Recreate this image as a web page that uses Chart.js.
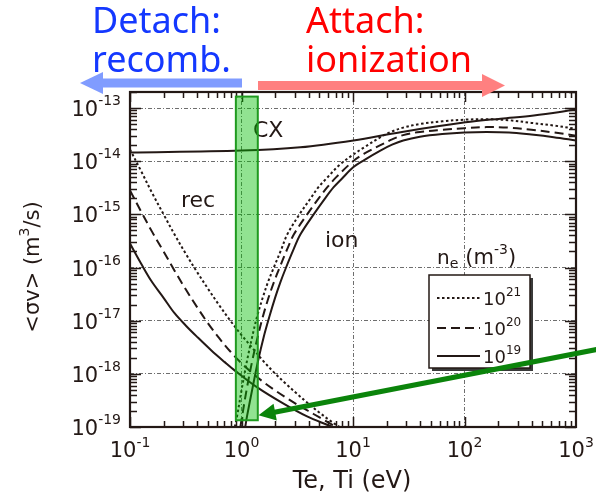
<!DOCTYPE html>
<html>
<head>
<meta charset="utf-8">
<script src="https://cdn.jsdelivr.net/npm/chart.js@4.4.1/dist/chart.umd.min.js"></script>
<style>
  html, body { margin: 0; padding: 0; background: #ffffff; }
  canvas { display: block; }
</style>
</head>
<body>
<canvas id="rates" width="596" height="497"></canvas>
<script>
// ---- Rate coefficients <sigma v> (m^3/s) versus temperature (eV) ----

// Charge exchange
const cxTe   = [0.1, 1.0, 3.37, 10.1, 26.7, 102, 211, 418, 1000];
const cxRate = [1.45e-14, 1.58e-14, 1.82e-14, 2.45e-14, 3.51e-14, 5.37e-14, 6.31e-14, 7.24e-14, 9.33e-14];

// Recombination, n_e = 1e21 / 1e20 / 1e19 m^-3
const recTe21   = [0.1, 0.126, 0.158, 0.2, 0.251, 0.316, 0.398, 0.501, 0.631, 0.794, 1.0, 1.259, 1.585, 1.995, 2.512, 3.162, 3.981, 5.012, 6.310, 7.586];
const recRate21 = [1.66e-14, 6.46e-15, 2.51e-15, 1.0e-15, 4.17e-16, 1.82e-16, 8.32e-17, 3.98e-17, 1.95e-17, 1.0e-17, 5.37e-18, 3.02e-18, 1.70e-18, 1.02e-18, 6.46e-19, 4.17e-19, 2.75e-19, 1.86e-19, 1.29e-19, 1.0e-19];
const recTe20   = [0.1, 0.126, 0.158, 0.2, 0.251, 0.316, 0.398, 0.501, 0.631, 0.794, 1.0, 1.259, 1.585, 1.995, 2.512, 3.162, 3.981, 5.012, 6.310, 7.079];
const recRate20 = [2.82e-15, 1.12e-15, 4.68e-16, 2.0e-16, 8.71e-17, 3.89e-17, 1.82e-17, 8.91e-18, 4.68e-18, 2.63e-18, 1.58e-18, 1.02e-18, 6.92e-19, 4.90e-19, 3.55e-19, 2.63e-19, 2.0e-19, 1.51e-19, 1.15e-19, 1.0e-19];
const recTe19   = [0.1, 0.126, 0.155, 0.2, 0.251, 0.316, 0.398, 0.537, 0.708, 0.873, 1.374, 2.382, 3.873, 5.848, 6.607];
const recRate19 = [2.82e-16, 1.175e-16, 5.62e-17, 2.69e-17, 1.38e-17, 8.13e-18, 5.01e-18, 2.75e-18, 1.66e-18, 1.15e-18, 5.62e-19, 2.75e-19, 1.58e-19, 1.10e-19, 1.0e-19];

// Ionization, n_e = 1e21 / 1e20 / 1e19 m^-3
const ionTe21   = [0.871, 0.912, 1.012, 1.122, 1.245, 1.380, 1.549, 1.738, 1.950, 2.275, 2.570, 3.311, 4.169, 4.898, 5.754, 7.586, 10.0, 12.59, 17.62, 22.39, 28.18, 39.81, 63.10, 100, 158.5, 251.2, 398.1, 631.0, 1000];
const ionRate21 = [1.0e-19, 1.58e-19, 5.62e-19, 1.78e-18, 4.90e-18, 1.20e-17, 2.69e-17, 5.50e-17, 1.0e-16, 2.19e-16, 4.17e-16, 1.0e-15, 2.0e-15, 3.24e-15, 4.68e-15, 8.51e-15, 1.32e-14, 1.82e-14, 2.82e-14, 3.63e-14, 4.27e-14, 5.01e-14, 5.62e-14, 6.03e-14, 6.17e-14, 5.89e-14, 5.25e-14, 4.68e-14, 4.07e-14];
const ionTe20   = [0.977, 1.012, 1.122, 1.250, 1.396, 1.556, 1.746, 1.950, 2.198, 2.564, 2.944, 3.882, 4.920, 5.888, 7.079, 10.14, 12.59, 17.62, 22.39, 28.18, 39.81, 63.10, 100, 158.5, 251.2, 398.1, 631.0, 1000];
const ionRate20 = [1.0e-19, 1.58e-19, 5.62e-19, 1.78e-18, 4.90e-18, 1.20e-17, 2.69e-17, 5.25e-17, 1.0e-16, 2.19e-16, 4.17e-16, 1.0e-15, 2.0e-15, 3.24e-15, 5.01e-15, 1.02e-14, 1.38e-14, 2.0e-14, 2.57e-14, 3.09e-14, 3.55e-14, 3.89e-14, 4.17e-14, 4.37e-14, 4.27e-14, 3.89e-14, 3.47e-14, 3.02e-14];
const ionTe19   = [1.08, 1.12, 1.26, 1.41, 1.58, 1.78, 2.0, 2.23, 2.51, 2.93, 3.37, 4.44, 5.62, 6.71, 7.94, 10.1, 12.6, 17.6, 22.4, 28.2, 39.8, 63.1, 100, 158, 251, 398, 631, 1000];
const ionRate19 = [1.0e-19, 1.58e-19, 5.62e-19, 1.78e-18, 4.90e-18, 1.20e-17, 2.69e-17, 5.25e-17, 1.0e-16, 2.19e-16, 4.17e-16, 1.0e-15, 2.0e-15, 3.24e-15, 4.68e-15, 7.76e-15, 1.05e-14, 1.58e-14, 2.04e-14, 2.45e-14, 2.88e-14, 3.24e-14, 3.47e-14, 3.55e-14, 3.47e-14, 3.16e-14, 2.82e-14, 2.45e-14];

// Axis decades (exponents of ten) and legend densities
const xExponents = [-1, 0, 1, 2, 3];
const yExponents = [-19, -18, -17, -16, -15, -14, -13];
const densityExponents = ['21', '20', '19'];

// Highlighted temperature window and the arrow pointing at it (data units)
const windowTe = [0.89, 1.40];
const windowRate = [1.34e-19, 1.64e-13];
const arrowTail = [1540, 2.88e-18];
const arrowTip = [1.42, 1.66e-19];

const INK = '#231815';
const DOTTED = [2.5, 2.5];
const DASHED = [9, 5];
const SANS = '"DejaVu Sans", sans-serif';

function pts(te, rate) { return te.map((t, i) => ({ x: t, y: rate[i] })); }

function curve(te, rate, dash, density) {
  return {
    data: pts(te, rate),
    borderColor: INK,
    borderWidth: 2,
    borderDash: dash,
    pointRadius: 0,
    fill: false,
    tension: 0.35,
    density: density
  };
}

const datasets = [
  curve(cxTe, cxRate, [], null),
  curve(recTe21, recRate21, DOTTED, '21'),
  curve(recTe20, recRate20, DASHED, '20'),
  curve(recTe19, recRate19, [], '19'),
  curve(ionTe21, ionRate21, DOTTED, null),
  curve(ionTe20, ionRate20, DASHED, null),
  curve(ionTe19, ionRate19, [], null)
];

// Draws a run of text pieces (main text, superscripts, subscripts) on one baseline
function drawRuns(ctx, runs, x, y, align) {
  let total = 0;
  runs.forEach(r => { ctx.font = r.font; r.w = ctx.measureText(r.t).width; total += r.w + (r.gap || 0); });
  let cx = align === 'center' ? x - total / 2 : align === 'right' ? x - total : x;
  ctx.textAlign = 'left';
  ctx.textBaseline = 'alphabetic';
  runs.forEach(r => {
    ctx.font = r.font;
    ctx.fillText(r.t, cx, y + (r.dy || 0));
    cx += r.w + (r.gap || 0);
  });
}
const F = (px, fam) => px + 'px ' + (fam || SANS);

// Frame, inward tick marks, labels, legend and the highlighted window
const decorations = {
  id: 'decorations',
  afterDatasetsDraw(chart) {
    const { ctx, chartArea: a, scales: { x, y } } = chart;
    ctx.save();

    // inward minor/major ticks on all four sides
    ctx.strokeStyle = INK;
    ctx.lineWidth = 1.5;
    ctx.beginPath();
    for (let e = -1; e < 3; e++) {
      for (let m = 1; m <= 9; m++) {
        const px = Math.round(x.getPixelForValue(m * Math.pow(10, e))) + 0.5;
        const len = m === 1 ? 10 : 6;
        ctx.moveTo(px, a.bottom); ctx.lineTo(px, a.bottom - len);
        ctx.moveTo(px, a.top); ctx.lineTo(px, a.top + len);
      }
    }
    for (let e = -19; e <= -13; e++) {
      for (let m = 1; m <= 9; m++) {
        const v = m * Math.pow(10, e);
        if (v > y.max) break;
        const py = Math.round(y.getPixelForValue(v)) + 0.5;
        const len = m === 1 ? 11 : 7;
        ctx.moveTo(a.left, py); ctx.lineTo(a.left + len, py);
        ctx.moveTo(a.right, py); ctx.lineTo(a.right - len, py);
      }
    }
    ctx.stroke();

    // frame
    ctx.lineWidth = 2.2;
    ctx.strokeRect(a.left, a.top, a.right - a.left, a.bottom - a.top);

    // tick labels
    ctx.fillStyle = INK;
    yExponents.forEach(e => {
      const py = y.getPixelForValue(Math.pow(10, e));
      drawRuns(ctx, [{ t: '10', font: F(21) }, { t: String(e), font: F(14), dy: -11 }], 121, py + 8, 'right');
    });
    xExponents.forEach(e => {
      const px = x.getPixelForValue(Math.pow(10, e));
      drawRuns(ctx, [{ t: '10', font: F(21) }, { t: String(e), font: F(14), dy: -10 }], px, 456.5, 'center');
    });

    // axis titles
    drawRuns(ctx, [{ t: 'Te, Ti (eV)', font: F(24) }], 352, 488, 'center');
    ctx.save();
    ctx.translate(32, 267);
    ctx.rotate(-Math.PI / 2);
    drawRuns(ctx, [{ t: '<σv> (m', font: F(21) }, { t: '3', font: F(14), dy: -10 }, { t: '/s)', font: F(21) }], 0, 7, 'center');
    ctx.restore();

    // curve family labels
    ctx.font = F(22);
    ctx.fillText('CX', 253, 137);
    ctx.fillText('rec', 181, 207);
    ctx.fillText('ion', 325, 247);

    // legend
    const lx = 429, ly = 275, lw = 101, lh = 93;
    ctx.fillStyle = '#3a3a3a';
    ctx.fillRect(lx + 3, ly + 3, lw, lh);
    ctx.fillStyle = '#ffffff';
    ctx.fillRect(lx, ly, lw, lh);
    ctx.lineWidth = 1.5;
    ctx.strokeStyle = INK;
    ctx.strokeRect(lx, ly, lw, lh);
    const rows = [298, 328, 356];
    densityExponents.forEach((d, i) => {
      const ds = chart.data.datasets.find(s => s.density === d);
      ctx.save();
      ctx.setLineDash(ds.borderDash);
      ctx.lineWidth = ds.borderWidth;
      ctx.strokeStyle = ds.borderColor;
      ctx.beginPath();
      ctx.moveTo(437, rows[i]); ctx.lineTo(480, rows[i]);
      ctx.stroke();
      ctx.restore();
      ctx.fillStyle = INK;
      drawRuns(ctx, [{ t: '10', font: F(18) }, { t: d, font: F(12), dy: -9 }], 483, rows[i] + 7, 'left');
    });
    ctx.fillStyle = INK;
    drawRuns(ctx, [
      { t: 'n', font: F(20) },
      { t: 'e', font: F(14), dy: 4, gap: 7 },
      { t: '(m', font: F(21) },
      { t: '-3', font: F(14), dy: -10 },
      { t: ')', font: F(21) }
    ], 437, 264, 'left');

    // highlighted temperature window
    const bx0 = x.getPixelForValue(windowTe[0]), bx1 = x.getPixelForValue(windowTe[1]);
    const by0 = y.getPixelForValue(windowRate[1]), by1 = y.getPixelForValue(windowRate[0]);
    ctx.fillStyle = 'rgba(0, 190, 0, 0.43)';
    ctx.fillRect(bx0, by0, bx1 - bx0, by1 - by0);
    ctx.strokeStyle = '#1f9a1f';
    ctx.lineWidth = 2;
    ctx.strokeRect(bx0, by0, bx1 - bx0, by1 - by0);

    // arrow pointing into the window
    const tx = x.getPixelForValue(arrowTip[0]), ty = y.getPixelForValue(arrowTip[1]);
    const sx = x.getPixelForValue(arrowTail[0]), sy = y.getPixelForValue(arrowTail[1]);
    const dx = tx - sx, dy = ty - sy, len = Math.hypot(dx, dy);
    const ux = dx / len, uy = dy / len;
    const hl = 17, hw = 8.5;
    const baseX = tx - ux * hl, baseY = ty - uy * hl;
    ctx.strokeStyle = '#0b840b';
    ctx.fillStyle = '#0b840b';
    ctx.lineWidth = 5;
    ctx.beginPath();
    ctx.moveTo(sx, sy); ctx.lineTo(baseX + ux * 2, baseY + uy * 2);
    ctx.stroke();
    ctx.beginPath();
    ctx.moveTo(tx, ty);
    ctx.lineTo(baseX - uy * hw, baseY + ux * hw);
    ctx.lineTo(baseX + uy * hw, baseY - ux * hw);
    ctx.closePath();
    ctx.fill();

    ctx.restore();
  },
  afterDraw(chart) {
    const ctx = chart.ctx;
    ctx.save();
    // regime arrows above the plot
    ctx.fillStyle = '#809cff';
    ctx.fillRect(101, 78.5, 141, 9);
    ctx.beginPath();
    ctx.moveTo(80, 83); ctx.lineTo(103, 72); ctx.lineTo(103, 94); ctx.closePath();
    ctx.fill();
    ctx.fillStyle = '#ff8080';
    ctx.fillRect(258, 81, 226, 9);
    ctx.beginPath();
    ctx.moveTo(505, 85.5); ctx.lineTo(482, 74); ctx.lineTo(482, 97); ctx.closePath();
    ctx.fill();

    // regime captions
    ctx.font = F(36, '"Noto Sans", sans-serif');
    ctx.textAlign = 'left';
    ctx.textBaseline = 'alphabetic';
    ctx.fillStyle = '#1438ff';
    ctx.fillText('Detach:', 92, 33);
    ctx.fillText('recomb.', 92, 72);
    ctx.fillStyle = '#ff0000';
    ctx.fillText('Attach:', 306, 33);
    ctx.fillText('ionization', 306, 72);
    ctx.restore();
  }
};

new Chart(document.getElementById('rates'), {
  type: 'line',
  data: { datasets: datasets },
  options: {
    responsive: false,
    animation: false,
    devicePixelRatio: 1,
    layout: { padding: { left: 130, right: 20, top: 92, bottom: 70 } },
    plugins: { legend: { display: false }, tooltip: { enabled: false } },
    scales: {
      x: {
        type: 'logarithmic',
        min: Math.pow(10, xExponents[0]),
        max: Math.pow(10, xExponents[xExponents.length - 1]),
        afterBuildTicks: s => { s.ticks = xExponents.map(e => ({ value: Math.pow(10, e) })); },
        ticks: { display: false },
        grid: { color: '#6e6e6e', lineWidth: 1, drawTicks: false },
        border: { display: false, dash: [4, 2, 1, 2] },
        title: { display: false }
      },
      y: {
        type: 'logarithmic',
        min: Math.pow(10, yExponents[0]),
        max: 2e-13,
        afterBuildTicks: s => { s.ticks = yExponents.map(e => ({ value: Math.pow(10, e) })); },
        ticks: { display: false },
        grid: { color: '#6e6e6e', lineWidth: 1, drawTicks: false },
        border: { display: false, dash: [4, 2, 1, 2] },
        title: { display: false }
      }
    }
  },
  plugins: [decorations]
});
</script>
</body>
</html>
